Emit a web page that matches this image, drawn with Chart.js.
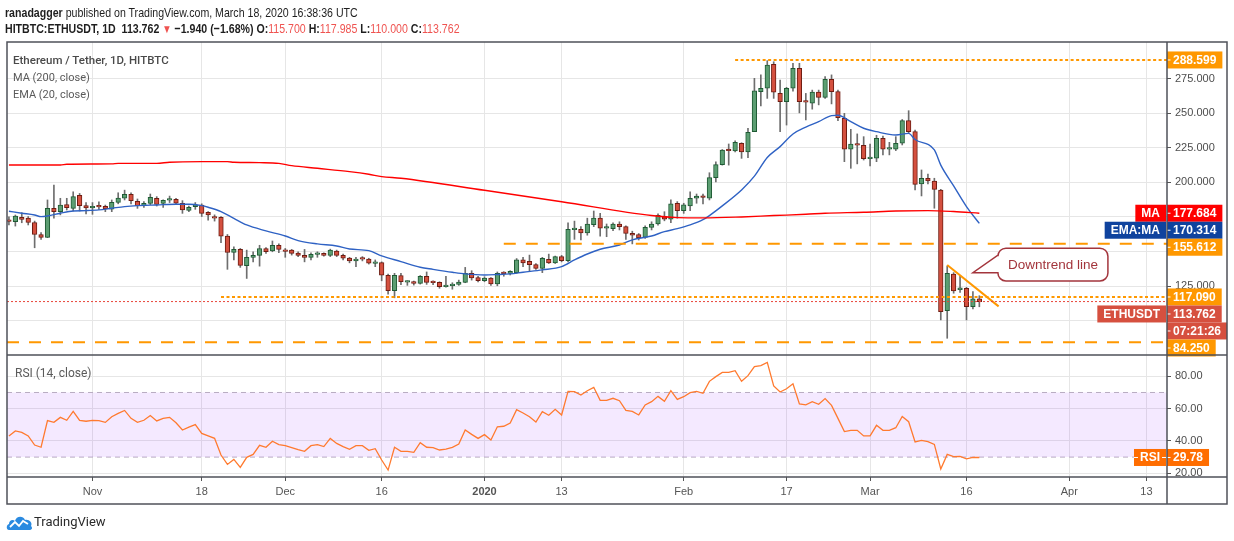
<!DOCTYPE html>
<html>
<head>
<meta charset="utf-8">
<title>Ethereum / Tether, 1D, HITBTC</title>
<script src="https://cdn.jsdelivr.net/npm/chart.js@4.4.1/dist/chart.umd.min.js"></script>
<style>
  html, body { margin:0; padding:0; background:#ffffff; }
  #wrap { position:relative; width:1234px; height:541px; overflow:hidden; background:#fff; }
  #chart { position:absolute; left:0; top:0; }
  .txt { position:absolute; white-space:nowrap; }
  #hdr1 { left:5px; top:4px; font:13.5px "Liberation Sans",Arial,sans-serif; color:#1e1e1e; line-height:17px; transform:scaleX(0.785); transform-origin:0 0; }
  #hdr2 { left:5px; top:20px; font:bold 13.5px "Liberation Sans",Arial,sans-serif; color:#1e1e1e; line-height:17px; transform:scaleX(0.785); transform-origin:0 0; }
  #hdr2 .red { color:#ef5350; font-weight:normal; }
  #hdr2 .tri { color:#ef5350; font-size:12px; }
  .leg { font-family:Roboto,"Liberation Sans",sans-serif; color:#5a5a5a; line-height:16px; }
  #leg1 { left:13px; top:52px; font-size:11.5px; font-weight:500; color:#4a4a4a; }
  #leg2 { left:13px; top:70px; font-size:11px; }
  #leg3 { left:13px; top:87px; font-size:11px; }
  #leg4 { left:15px; top:365px; font-size:12px; }
  #logo { left:6px; top:513px; }
  #logoTxt { left:34px; top:514px; font:13px Roboto,"Liberation Sans",sans-serif; color:#2a2a2a; line-height:16px; }
</style>
</head>
<body>
<div id="wrap">
  <canvas id="chart" width="1234" height="541"></canvas>
  <div class="txt" id="hdr1"><b>ranadagger</b> published on TradingView.com, March 18, 2020 16:38:36 UTC</div>
  <div class="txt" id="hdr2">HITBTC:ETHUSDT, 1D&nbsp; 113.762 <span class="tri">▼</span> −1.940 (−1.68%) O:<span class="red">115.700</span> H:<span class="red">117.985</span> L:<span class="red">110.000</span> C:<span class="red">113.762</span></div>
  <div class="txt leg" id="leg1">Ethereum / Tether, 1D, HITBTC</div>
  <div class="txt leg" id="leg2">MA (200, close)</div>
  <div class="txt leg" id="leg3">EMA (20, close)</div>
  <div class="txt leg" id="leg4">RSI (14, close)</div>
  <svg class="txt" id="logo" width="27" height="18" viewBox="0 0 27 18">
    <path d="M3 17 C0 17 0 12 3 11 C3 7 7 6 9 8 C10 3 17 2 19 7 C23 6 27 10 25 13 C27 15 26 17 23 17 Z" fill="#2a8ae0"/>
    <polyline points="4,14 9,9 13,13 17,8 22,11" stroke="#ffffff" stroke-width="1.8" fill="none"/>
  </svg>
  <div class="txt" id="logoTxt">TradingView</div>
</div>
<script>
// ---------------- DATA ----------------
const firstDate = '2019-10-19';

const opens = [
  172.7,171.5,174.8,174.1,171.0,162.3,160.2,181.2,178.8,184.0,181.2,190.6,183.3,
  181.6,182.4,182.6,180.7,185.6,188.5,191.3,186.3,183.1,184.7,188.5,184.7,187.1,187.8,184.9,179.8,182.4,183.5,178.4,175.3,174.8,161.1,149.3,151.5,139.7,145.8,147.2,152.2,150.5,154.5,
  151.0,151.0,148.9,147.2,145.8,147.9,148.6,147.2,150.3,147.2,145.3,143.2,144.8,144.6,141.4,142.0,132.8,121.7,132.6,127.8,128.3,126.9,132.1,127.9,127.6,124.6,125.2,126.2,127.6,134.2,131.2,
  128.8,130.7,126.5,134.4,134.2,134.7,143.9,142.9,140.6,137.8,144.4,141.8,146.3,143.4,165.8,166.1,163.5,169.4,174.1,166.8,166.6,169.9,168.0,162.3,162.3,160.2,167.5,169.9,175.3,173.4,184.9,
  179.5,183.0,188.5,189.9,188.5,203.5,212.9,223.3,222.8,228.3,222.1,236.7,265.7,268.1,285.4,264.4,258.4,268.1,282.5,258.6,257.3,265.3,261.5,274.6,265.8,246.4,224.0,227.8,226.9,
  217.2,217.5,231.9,224.0,224.0,228.3,244.7,236.7,198.9,203.0,201.0,194.5,107.2,133.7,122.3,123.4,110.1,115.7
];
const highs = [
  175.1,176.4,178.1,175.3,172.0,163.7,187.3,198.1,188.5,188.5,193.2,192.0,185.4,
  185.4,185.9,183.6,187.3,192.5,194.4,192.5,188.0,186.1,191.6,189.7,187.3,190.1,188.5,186.8,182.8,185.4,184.5,178.8,176.5,175.3,162.3,153.4,152.2,151.0,149.8,154.5,152.9,157.6,155.5,
  152.2,151.5,149.8,151.5,149.1,149.8,149.1,151.7,151.0,148.1,145.8,145.8,146.3,145.1,143.9,142.5,133.7,134.2,134.2,128.8,128.6,132.6,135.2,128.8,128.1,132.1,127.4,129.3,138.5,136.1,132.1,
  131.7,131.2,135.2,135.4,136.1,144.9,145.8,147.4,141.3,145.8,148.1,146.7,147.2,170.8,172.0,168.0,174.1,179.3,177.6,169.9,170.8,171.5,168.5,164.7,163.0,168.5,171.5,177.2,178.8,187.3,186.1,
  184.9,193.2,191.6,191.6,207.0,214.8,223.8,227.8,230.1,228.7,239.1,275.3,277.8,288.1,287.3,274.0,268.8,286.2,286.2,264.4,266.8,266.8,276.6,277.8,266.8,250.0,238.4,235.1,233.1,
  227.8,234.1,233.6,229.0,233.1,245.5,251.9,237.9,209.0,206.1,203.0,195.0,139.5,134.7,132.8,124.1,121.0,117.985
];
const lows = [
  169.2,168.4,170.8,169.2,152.7,158.8,160.0,174.1,176.5,180.0,179.3,179.3,177.2,
  176.9,180.5,178.8,178.8,184.5,187.3,184.5,181.2,181.9,183.8,182.9,181.9,185.4,183.8,177.6,178.8,180.5,175.3,172.7,172.0,156.4,137.1,143.9,138.5,130.5,142.5,139.4,148.6,149.8,149.1,
  145.8,147.4,146.3,142.5,143.9,145.8,146.7,146.3,146.3,143.9,141.8,139.0,143.2,140.9,139.0,128.8,119.1,116.5,126.0,125.5,125.7,126.4,126.2,126.0,123.4,124.1,122.7,125.5,127.4,129.3,127.9,
  128.1,125.5,125.2,132.1,133.0,134.2,139.0,136.1,137.1,134.7,141.3,141.3,142.5,142.5,158.8,158.3,161.8,168.0,161.1,160.7,165.1,165.6,158.8,155.5,158.3,159.5,165.6,169.1,172.2,170.8,174.1,
  177.6,179.5,184.9,184.5,187.3,200.4,212.5,212.5,222.1,217.4,217.9,236.7,255.4,260.8,260.8,236.7,241.5,266.0,250.3,245.2,253.0,256.1,260.8,256.8,244.7,215.0,210.2,213.4,216.2,
  211.9,215.0,219.9,219.9,223.0,227.1,235.5,194.5,190.2,198.9,181.3,100.5,87.2,119.8,120.3,100.5,108.4,110.0
];
const closes = [
  171.8,175.7,173.2,171.0,162.3,160.2,181.2,178.8,183.6,181.7,189.7,183.1,181.6,
  182.6,182.2,180.9,185.6,188.7,191.3,186.8,183.1,184.9,189.2,184.0,187.1,188.0,184.9,180.0,181.9,183.8,177.6,176.5,174.1,161.1,149.3,151.5,139.9,145.8,147.2,152.2,149.8,154.5,151.5,
  150.1,148.6,147.2,145.8,147.9,148.9,147.2,151.0,147.2,145.1,143.2,144.6,144.4,141.6,142.3,132.8,121.7,132.8,128.1,128.3,126.9,132.1,127.6,127.4,124.6,125.7,126.5,127.9,134.2,130.9,128.8,
  130.7,126.5,134.2,134.0,135.6,143.9,141.8,140.4,137.8,145.1,141.8,146.3,143.4,166.1,166.3,163.5,169.9,174.1,166.8,167.0,169.9,168.0,163.0,161.9,160.0,167.5,169.9,176.2,173.4,184.5,179.5,
  183.8,188.5,190.1,189.2,203.5,212.9,223.3,222.9,229.0,222.1,236.3,266.2,268.1,284.9,265.3,258.4,268.1,282.5,258.4,258.1,265.3,261.5,274.6,265.7,246.9,224.0,227.8,226.9,217.2,
  217.7,231.9,224.0,224.7,228.3,244.7,236.7,198.6,203.0,201.0,195.0,106.5,134.2,121.5,123.7,110.1,115.7,113.762
];
const rsi = [
  43.1,46.2,45.3,43.1,37.5,36.1,52.6,51.5,54.6,52.8,58.3,52.8,52.2,
  52.8,52.6,51.5,55.0,57.1,58.9,54.0,51.5,52.8,55.7,52.4,54.0,54.6,51.3,46.8,48.6,50.1,44.7,43.1,41.6,31.3,25.5,28.6,23.7,29.9,31.7,37.3,36.1,39.8,37.7,
  37.1,35.9,34.6,33.6,37.1,37.7,36.5,41.6,38.5,36.5,34.8,37.1,37.1,34.2,35.2,28.2,22.0,36.1,33.6,33.6,33.0,38.9,36.1,35.9,34.4,35.0,36.1,38.1,46.8,44.1,41.6,
  43.9,40.6,48.8,49.1,51.1,59.4,57.3,55.0,51.7,58.1,55.9,59.6,56.1,70.7,70.5,68.4,71.1,73.2,65.1,65.1,66.4,64.9,58.9,58.3,56.1,62.3,64.3,67.6,64.5,71.1,65.7,
  67.4,69.9,70.7,69.5,76.9,79.8,82.4,82.4,83.5,76.9,80.4,86.0,86.6,88.6,74.0,70.3,72.3,75.4,62.9,62.3,64.3,62.7,66.2,62.0,54.0,45.8,46.6,46.6,43.1,
  43.1,49.7,46.6,46.6,48.2,55.2,51.9,39.4,40.4,39.6,37.9,22.7,31.7,30.3,30.5,28.9,29.9,29.78
];

const maDates = ['2019-10-19','2019-10-27','2019-10-28','2019-11-04','2019-11-05','2019-11-11','2019-11-13','2019-11-18','2019-11-22','2019-11-23','2019-11-27','2019-11-30','2019-12-02','2019-12-06','2019-12-11','2019-12-14','2019-12-16','2019-12-19','2020-01-01','2020-01-13','2020-01-27','2020-01-31','2020-02-04','2020-02-10','2020-02-15','2020-02-20','2020-02-23','2020-02-29','2020-03-05','2020-03-10','2020-03-14','2020-03-18'];
const maValues = [212.6,212.6,213.1,213.4,213.8,213.8,214.6,215.0,215.0,214.6,214.3,213.8,212.1,210.2,207.8,205.9,204.2,203.0,194.3,186.0,176.0,174.5,174.3,175.0,176.0,176.9,177.7,178.4,179.3,179.6,178.9,177.684];

const emaDates = ['2019-10-19','2019-10-21','2019-10-23','2019-10-24','2019-10-25','2019-10-27','2019-10-29','2019-10-31','2019-11-02','2019-11-04','2019-11-06','2019-11-08','2019-11-11','2019-11-14','2019-11-16','2019-11-18','2019-11-19','2019-11-21','2019-11-23','2019-11-25','2019-11-28','2019-12-01','2019-12-03','2019-12-06','2019-12-09','2019-12-11','2019-12-14','2019-12-16','2019-12-19','2019-12-22','2019-12-24','2019-12-27','2019-12-29','2020-01-01','2020-01-03','2020-01-05','2020-01-07','2020-01-10','2020-01-13','2020-01-15','2020-01-17','2020-01-19','2020-01-22','2020-01-24','2020-01-27','2020-01-29','2020-01-31','2020-02-02','2020-02-04','2020-02-05','2020-02-07','2020-02-10','2020-02-12','2020-02-14','2020-02-16','2020-02-18','2020-02-20','2020-02-22','2020-02-24','2020-02-25','2020-02-27','2020-02-29','2020-03-02','2020-03-05','2020-03-07','2020-03-08','2020-03-11','2020-03-12','2020-03-14','2020-03-16','2020-03-18'];
const emaValues = [179.1,177.7,176.4,175.2,175.7,177.7,179.3,179.6,180.1,181.3,182.5,183.2,183.7,184.2,184.2,183.2,182.0,178.9,174.0,169.2,164.9,161.2,157.9,155.5,154.0,151.8,150.6,146.8,142.7,138.6,137.1,135.0,133.8,133.0,133.3,133.8,135.0,136.7,139.1,143.9,148.2,151.6,154.7,158.4,161.2,164.4,166.5,169.2,173.0,176.0,183.0,194.5,204.5,218.0,225.9,235.0,240.0,244.0,248.3,248.6,244.0,239.2,236.7,234.3,235.5,231.0,223.5,212.5,197.5,182.5,170.314];

const tickDates  = ['2019-11-01','2019-11-18','2019-12-01','2019-12-16','2020-01-01','2020-01-13','2020-02-01','2020-02-17','2020-03-01','2020-03-16','2020-04-01','2020-04-13'];
const tickLabels = ['Nov','18','Dec','16','2020','13','Feb','17','Mar','16','Apr','13'];
const priceTicks = [100,125,150,175,200,225,250,275];
const hiddenPriceTicks = [100,150,175];
const rsiTicks = [20,40,60,80];
const rsiBand = [70,30];

// horizontal levels drawn on the chart
const levelValues = [288.599, 155.612, 117.090, 84.250];
const levelStarts = ['2020-02-09','2020-01-04','2019-11-21','2019-10-19'];
const levelStyles = ['short','long','short','long'];
const lastPrice = 113.762;
const trendDates = ['2020-03-13','2020-03-21'];
const trendPrices = [140.2, 110.3];
const calloutDate = '2020-03-17';
const calloutPrice = 134.7;
const calloutText = 'Downtrend line';
const maLast = 177.684, emaLast = 170.314, rsiLast = 29.78;
const countdown = '07:21:26';
const lastDate = '2020-04-16';

// ---------------- HELPERS ----------------
const DAY = 864e5;
const dayIndex = s => Math.round((Date.parse(s) - Date.parse(firstDate)) / DAY);
const xMin = -0.3, xMax = dayIndex(lastDate) + 0.2;
const labelForTick = {};
tickDates.forEach((d, i) => { labelForTick[dayIndex(d)] = tickLabels[i]; });

const UP_FILL = '#5c9e72', UP_LINE = '#1f5a34', DN_FILL = '#d4503f', DN_LINE = '#6e1c12', WICK = '#6e6e6e';
const ORANGE = '#ff9800';
const isUp = i => closes[i] >= opens[i];

const datasets = [];
// RSI band
datasets.push({ type:'line', yAxisID:'yRsi', data:[{x:xMin,y:rsiBand[0]},{x:xMax,y:rsiBand[0]}],
  borderColor:'#b9adc2', borderWidth:1, borderDash:[5,4], pointRadius:0, fill:'+1',
  backgroundColor:'rgba(149,40,255,0.10)', order:9 });
datasets.push({ type:'line', yAxisID:'yRsi', data:[{x:xMin,y:rsiBand[1]},{x:xMax,y:rsiBand[1]}],
  borderColor:'#b9adc2', borderWidth:1, borderDash:[5,4], pointRadius:0, fill:false, order:9 });
// RSI line
datasets.push({ type:'line', yAxisID:'yRsi', data: rsi.map((v,i)=>({x:i,y:v})),
  borderColor:'#ff7a2f', borderWidth:1.3, pointRadius:0, tension:0, order:1 });
// wicks
datasets.push({ type:'bar', yAxisID:'y', data: opens.map((_,i)=>({x:i, y:[lows[i], highs[i]]})),
  backgroundColor:WICK, borderWidth:0, barThickness:1, grouped:false, order:4 });
// bodies
datasets.push({ type:'bar', yAxisID:'y', data: opens.map((o,i)=>({x:i, y:[o, closes[i]]})),
  backgroundColor: opens.map((_,i)=> isUp(i) ? UP_FILL : DN_FILL),
  borderColor: opens.map((_,i)=> isUp(i) ? UP_LINE : DN_LINE),
  borderWidth:1, borderSkipped:false, barThickness:4.6, minBarLength:1.6, grouped:false, order:3 });
// MA 200
datasets.push({ type:'line', yAxisID:'y', data: maDates.map((d,i)=>({x:dayIndex(d), y:maValues[i]})),
  borderColor:'#ff0000', borderWidth:1.4, pointRadius:0, cubicInterpolationMode:'monotone', order:2 });
// EMA 20
datasets.push({ type:'line', yAxisID:'y', data: emaDates.map((d,i)=>({x:dayIndex(d), y:emaValues[i]})),
  borderColor:'#2f62c4', borderWidth:1.4, pointRadius:0, cubicInterpolationMode:'monotone', order:2 });
// levels
levelValues.forEach((v,i)=>{
  datasets.push({ type:'line', yAxisID:'y', data:[{x: i===3 ? xMin : dayIndex(levelStarts[i]), y:v},{x:xMax,y:v}],
    borderColor:ORANGE, borderWidth:2, borderDash: levelStyles[i]==='short' ? [3,2.5] : [12,10],
    pointRadius:0, order:0 });
});
// last price dotted line
datasets.push({ type:'line', yAxisID:'y', data:[{x:xMin,y:lastPrice},{x:xMax,y:lastPrice}],
  borderColor:'#e8463a', borderWidth:1, borderDash:[2,2], pointRadius:0, order:0 });
// trend line
datasets.push({ type:'line', yAxisID:'y', data: trendDates.map((d,i)=>({x:dayIndex(d), y:trendPrices[i]})),
  borderColor:ORANGE, borderWidth:2, pointRadius:0, order:0 });

// ---------------- PLUGINS ----------------
const FONT_AX = '"Liberation Sans", Arial, sans-serif';
function badge(ctx, text, color, left, top, h, align) {
  ctx.font = 'bold 12px ' + FONT_AX;
  const w = ctx.measureText(text).width + 12;
  const x = align === 'right' ? left - w : left;
  ctx.fillStyle = color;
  ctx.fillRect(x, top, w, h);
  ctx.fillStyle = '#ffffff';
  ctx.textBaseline = 'middle';
  if (align === 'right') {
    ctx.textAlign = 'center';
    ctx.fillText(text, x + w/2, top + h/2 + 0.5);
  } else {
    ctx.textAlign = 'left';
    ctx.fillText(text, x + 6, top + h/2 + 0.5);
    ctx.fillRect(x, top + h/2 - 0.5, 3.5, 1);
  }
  return w;
}

const overlayPlugin = {
  id:'overlay',
  afterDatasetsDraw(chart) {
    const {ctx, scales:{x, y}} = chart;
    const tx = x.getPixelForValue(dayIndex(calloutDate));
    const ty = y.getPixelForValue(calloutPrice);
    const x0 = tx + 25, x1 = tx + 135, y0 = ty - 24.4, y1 = ty + 8.3, r = 8;
    ctx.save();
    ctx.beginPath();
    ctx.moveTo(x0 + r, y0);
    ctx.lineTo(x1 - r, y0); ctx.arcTo(x1, y0, x1, y0 + r, r);
    ctx.lineTo(x1, y1 - r); ctx.arcTo(x1, y1, x1 - r, y1, r);
    ctx.lineTo(x0 + r, y1); ctx.arcTo(x0, y1, x0, y1 - r, r);
    ctx.lineTo(x0, ty); ctx.lineTo(tx, ty); ctx.lineTo(x0, y0 + 7);
    ctx.arcTo(x0, y0, x0 + r, y0, r);
    ctx.closePath();
    ctx.fillStyle = '#ffffff'; ctx.fill();
    ctx.strokeStyle = '#a3353c'; ctx.lineWidth = 1.5; ctx.stroke();
    ctx.fillStyle = '#a3353c';
    ctx.font = '13.5px ' + FONT_AX;
    ctx.textAlign = 'center'; ctx.textBaseline = 'middle';
    ctx.fillText(calloutText, (x0 + x1)/2, (y0 + y1)/2 + 0.5);
    ctx.restore();
  },
  afterDraw(chart) {
    const {ctx, chartArea: ca, scales:{x, y, yRsi}} = chart;
    const H = 17, axL = ca.right;
    ctx.save();
    // price badges with stacking
    const items = [
      {v: levelValues[0], t: levelValues[0].toFixed(3), c: ORANGE},
      {v: maLast, t: maLast.toFixed(3), c: '#ff0000', tag: 'MA'},
      {v: emaLast, t: emaLast.toFixed(3), c: '#0f439e', tag: 'EMA:MA'},
      {v: levelValues[1], t: levelValues[1].toFixed(3), c: ORANGE},
      {v: levelValues[2], t: levelValues[2].toFixed(3), c: ORANGE},
      {v: lastPrice, t: lastPrice.toFixed(3), c: '#d6503f', tag: 'ETHUSDT', extra: countdown},
      {v: levelValues[3], t: levelValues[3].toFixed(3), c: ORANGE}
    ];
    let prevBottom = -1e9;
    items.forEach(it => {
      let top = y.getPixelForValue(it.v) - H/2;
      if (top < prevBottom) top = prevBottom;
      badge(ctx, it.t, it.c, axL, top, H, 'left');
      if (it.tag) badge(ctx, it.tag, it.c, axL - 1, top, H, 'right');
      prevBottom = top + H;
      if (it.extra) { badge(ctx, it.extra, it.c, axL, prevBottom, H, 'left'); prevBottom += H; }
    });
    // RSI badge
    const ry = yRsi.getPixelForValue(rsiLast) - H/2;
    badge(ctx, rsiLast.toFixed(2), '#ff6d00', axL, ry, H, 'left');
    const tw = badge(ctx, 'RSI', '#ff6d00', axL - 1, ry, H, 'right');
    ctx.fillStyle = '#ffffff';
    ctx.fillRect(axL - 1 - tw, ry + H/2 - 0.5, 4, 1);
    ctx.fillRect(axL - 5, ry + H/2 - 0.5, 4, 1);

    // frame
    ctx.strokeStyle = '#4f5159';
    ctx.lineWidth = 1.5;
    const L = 7, R = 1227, T = ca.top, B = x.bottom;
    ctx.strokeRect(L, T, R - L, B - T);
    ctx.beginPath();
    ctx.moveTo(L, y.bottom); ctx.lineTo(R, y.bottom);
    ctx.moveTo(L, ca.bottom); ctx.lineTo(R, ca.bottom);
    ctx.moveTo(axL, T); ctx.lineTo(axL, B);
    ctx.stroke();
    ctx.restore();
  }
};

// ---------------- CHART ----------------
new Chart(document.getElementById('chart'), {
  type: 'bar',
  data: { datasets },
  plugins: [overlayPlugin],
  options: {
    responsive: false,
    animation: false,
    events: [],
    layout: { padding: { left: 7, right: 7, top: 42, bottom: 37 } },
    plugins: { legend: { display: false }, tooltip: { enabled: false } },
    scales: {
      x: {
        type: 'linear', position: 'bottom', min: xMin, max: xMax, offset: false,
        afterBuildTicks: s => { s.ticks = tickDates.map(d => ({ value: dayIndex(d) })); },
        afterFit: s => { s.height = 27; },
        ticks: {
          autoSkip: false, maxRotation: 0, padding: 4, color: '#555555',
          font: ctx => ({ family: FONT_AX, size: 11, weight: (ctx.tick && ctx.tick.label === '2020') ? 'bold' : 'normal' }),
          callback: v => labelForTick[v] || ''
        },
        grid: { color: '#e6e6e6', offset: false, tickLength: 4, tickColor: '#555555', tickWidth: 1 },
        border: { display: false }
      },
      y: {
        type: 'linear', position: 'right', stack: 'panes', stackWeight: 313,
        min: 75.1, max: 301.6,
        afterBuildTicks: s => { s.ticks = priceTicks.map(v => ({ value: v })); },
        afterFit: s => { s.width = 60; },
        ticks: {
          padding: 4, color: '#4d4d4d', font: { family: FONT_AX, size: 11 },
          callback: v => hiddenPriceTicks.includes(v) ? '' : v.toFixed(3)
        },
        grid: { color: '#e6e6e6', tickLength: 4, tickColor: '#555555' },
        border: { display: false }
      },
      yRsi: {
        type: 'linear', position: 'right', stack: 'panes', stackWeight: 122,
        min: 17.7, max: 93.2,
        afterBuildTicks: s => { s.ticks = rsiTicks.map(v => ({ value: v })); },
        afterFit: s => { s.width = 60; },
        ticks: {
          padding: 4, color: '#4d4d4d', font: { family: FONT_AX, size: 11 },
          callback: v => v.toFixed(2)
        },
        grid: { color: '#e6e6e6', tickLength: 4, tickColor: '#555555' },
        border: { display: false }
      }
    }
  }
});
</script>
</body>
</html>
